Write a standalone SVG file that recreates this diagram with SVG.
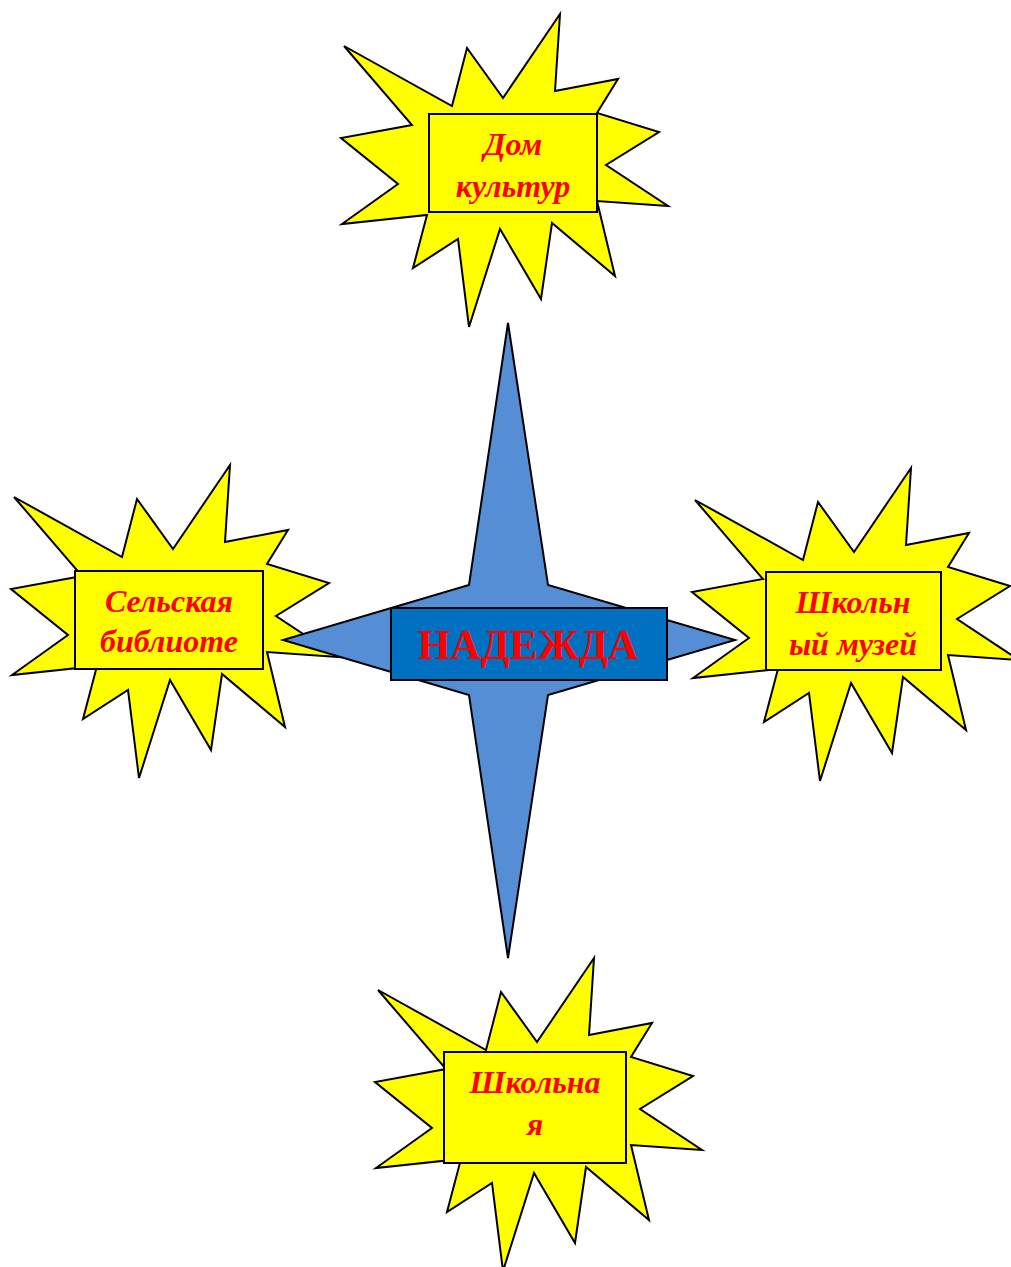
<svg xmlns="http://www.w3.org/2000/svg" xmlns:xlink="http://www.w3.org/1999/xlink" width="1011" height="1267" viewBox="0 0 1011 1267">
<style>
.burst{fill:#FFFF00;stroke:#000;stroke-width:2;stroke-linejoin:miter}
.box{fill:#FFFF00;stroke:#000;stroke-width:2}
.lbl{font-family:"Liberation Serif","Times New Roman",serif;font-weight:bold;font-style:italic;font-size:32px;fill:#FF0000;text-anchor:middle}
.cstar{fill:#558ED5;stroke:#000;stroke-width:2}
.cbox{fill:#0070C0;stroke:#000;stroke-width:2}
.ctext{font-family:"Liberation Serif","Times New Roman",serif;font-weight:bold;font-size:42px;fill:#FF0000;text-anchor:middle}
</style>
<defs>
<polygon id="burstShape" class="burst" points="560,14 555,91 618,79 597,113 659,132 606,165 668,206 597,201 615,276 552,223 541,299 500,229 469,327 458,239 413,268 427,215 342,224 398,184 341,138 412,125 344,46 452,106 467,48 503,98"/>
</defs>
<rect width="1011" height="1267" fill="#FFFFFF"/>
<g id="node-dom-kultur">
<use xlink:href="#burstShape" href="#burstShape"/>
<rect class="box" x="429" y="114" width="168" height="98"/>
<text class="lbl" x="513" y="155">Дом</text>
<text class="lbl" x="513" y="197">культур</text>
</g>
<g id="node-biblioteka">
<use xlink:href="#burstShape" href="#burstShape" transform="translate(-330,451)"/>
<rect class="box" x="75" y="571" width="188" height="98"/>
<text class="lbl" x="169" y="612">Сельская</text>
<text class="lbl" x="169" y="652">библиоте</text>
</g>
<g id="node-muzei">
<use xlink:href="#burstShape" href="#burstShape" transform="translate(351,454)"/>
<rect class="box" x="766" y="572" width="175" height="98"/>
<text class="lbl" x="853" y="613">Школьн</text>
<text class="lbl" x="853" y="655">ый музей</text>
</g>
<g id="node-shkola">
<use xlink:href="#burstShape" href="#burstShape" transform="translate(34,944)"/>
<rect class="box" x="444" y="1052" width="182" height="111"/>
<text class="lbl" x="535" y="1093">Школьна</text>
<text class="lbl" x="535" y="1135">я</text>
</g>
<g id="connectors"></g>
<g id="node-nadezhda">
<polygon class="cstar" points="508,323 548,585 735,640 548,695 508,958 469,695 283,640 469,585"/>
<rect class="cbox" x="391" y="608" width="276" height="72"/>
<text class="ctext" x="528" y="659">НАДЕЖДА</text>
</g>
</svg>
